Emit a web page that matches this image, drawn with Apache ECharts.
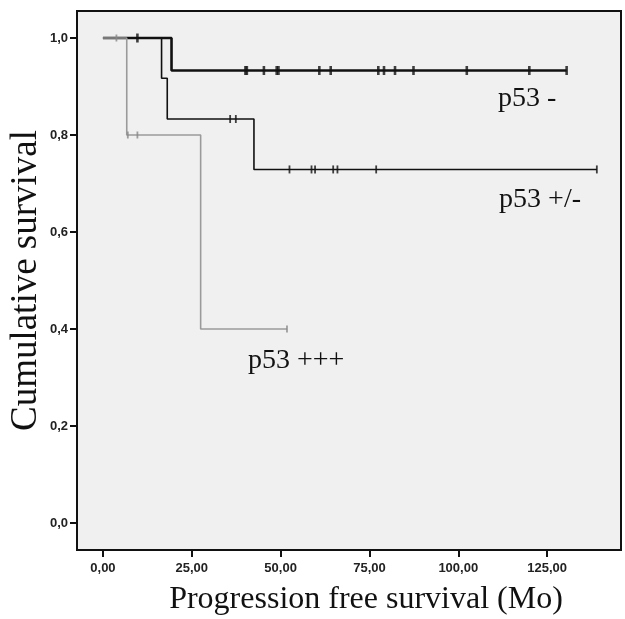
<!DOCTYPE html>
<html><head><meta charset="utf-8">
<script src="https://cdn.jsdelivr.net/npm/echarts@6/dist/echarts.min.js"></script>
<style>html,body{margin:0;padding:0;background:#fff}#c{width:625px;height:619px}</style>
</head><body><div id="c"></div>
<script>
// Kaplan-Meier steps: times and survival after each time
const negTimes = [0, 19.3, 130.5];
const negSurv  = [1, 0.933, 0.933];
const pmTimes  = [0, 16.5, 18.1, 42.5, 139];
const pmSurv   = [1, 0.917, 0.833, 0.729, 0.729];
const ppTimes  = [0, 6.7, 27.5, 51.8];
const ppSurv   = [1, 0.8, 0.4, 0.4];
// censored observations (months)
const negCensor = [9.7, 40.1, 40.5, 45.3, 48.9, 49.4, 60.9, 64.1, 77.5, 79.1, 82.2, 87.4, 102.4, 120.0, 130.5];
const pmCensor  = [35.8, 37.4, 52.5, 58.7, 59.7, 64.8, 66.0, 76.9, 139];
const ppCensor  = [3.8, 7.0, 9.7, 51.8];
const xTicks = [0, 25, 50, 75, 100, 125];
const yTicks = [0, 0.2, 0.4, 0.6, 0.8, 1.0];
const groupNames = ['p53 -', 'p53 +/-', 'p53 +++'];
const labelPos = [[111.2, 0.876], [111.5, 0.666], [40.8, 0.334]];

function steps(t, s) { return t.map((v, i) => [v, s[i]]); }
function survAt(t, s, x) { let v = s[0]; for (let i = 0; i < t.length; i++) { if (t[i] <= x) v = s[i]; } return v; }
function cens(c, t, s) { return c.map(x => [x, survAt(t, s, x)]); }

const chart = echarts.init(document.getElementById('c'));
const serif = 'Liberation Serif';
chart.setOption({
  animation: false,
  backgroundColor: '#ffffff',
  grid: { left: 77, top: 11, right: 4, bottom: 69, containLabel: false, outerBoundsMode: 'none',
    show: true, backgroundColor: '#f0f0f0', borderColor: '#111', borderWidth: 2 },
  xAxis: {
    type: 'value', min: -7.3, max: 145.8,
    name: 'Progression free survival (Mo)', nameLocation: 'middle', nameGap: 34, nameMoveOverlap: false,
    nameTextStyle: { fontFamily: serif, fontSize: 32, color: '#111', padding: [0, 0, 0, 34] },
    axisLine: { show: true, onZero: false, lineStyle: { color: '#111', width: 2 } },
    axisTick: { show: true, length: 7, lineStyle: { color: '#111', width: 2 }, customValues: xTicks },
    axisLabel: { customValues: xTicks, margin: 12, fontFamily: 'Liberation Sans', fontWeight: 'bold', fontSize: 13, color: '#222',
      formatter: v => v.toFixed(2).replace('.', ',') },
    splitLine: { show: false }
  },
  yAxis: {
    type: 'value', min: -0.0557, max: 1.0557,
    name: 'Cumulative survival', nameLocation: 'middle', nameGap: 32, nameMoveOverlap: false,
    nameTextStyle: { fontFamily: serif, fontSize: 37, color: '#111' },
    axisLine: { show: true, onZero: false, lineStyle: { color: '#111', width: 2 } },
    axisTick: { show: true, length: 7, lineStyle: { color: '#111', width: 2 }, customValues: yTicks },
    axisLabel: { customValues: yTicks, margin: 9, fontFamily: 'Liberation Sans', fontWeight: 'bold', fontSize: 13, color: '#222',
      formatter: v => v.toFixed(1).replace('.', ',') },
    splitLine: { show: false }
  },
  series: [
    { type: 'line', step: 'end', data: steps(pmTimes, pmSurv), symbol: 'none', z: 3, lineStyle: { color: '#111', width: 1.6 } },
    { type: 'scatter', data: cens(pmCensor, pmTimes, pmSurv), symbol: 'rect', symbolSize: [1.8, 8], z: 3, itemStyle: { color: '#111' } },
    { type: 'line', step: 'end', data: steps(negTimes, negSurv), symbol: 'none', z: 4, lineStyle: { color: '#111', width: 2.6 } },
    { type: 'scatter', data: cens(negCensor, negTimes, negSurv), symbol: 'rect', symbolSize: [2.6, 9], z: 4, itemStyle: { color: '#111' } },
    { type: 'line', step: 'end', data: steps(ppTimes, ppSurv), symbol: 'none', z: 5, lineStyle: { color: '#9a9a9a', width: 1.6 } },
    { type: 'scatter', data: cens(ppCensor, ppTimes, ppSurv), symbol: 'rect', symbolSize: [1.8, 7], z: 5, itemStyle: { color: '#888' } }
  ]
});
const g = groupNames.map((name, i) => {
  const p = chart.convertToPixel({ gridIndex: 0 }, labelPos[i]);
  return { type: 'text', x: p[0], y: p[1], z: 10,
    style: { text: name, fontFamily: serif, fontSize: 28, fill: '#111', verticalAlign: 'middle' } };
});
chart.setOption({ graphic: g });
</script>
</body></html>
